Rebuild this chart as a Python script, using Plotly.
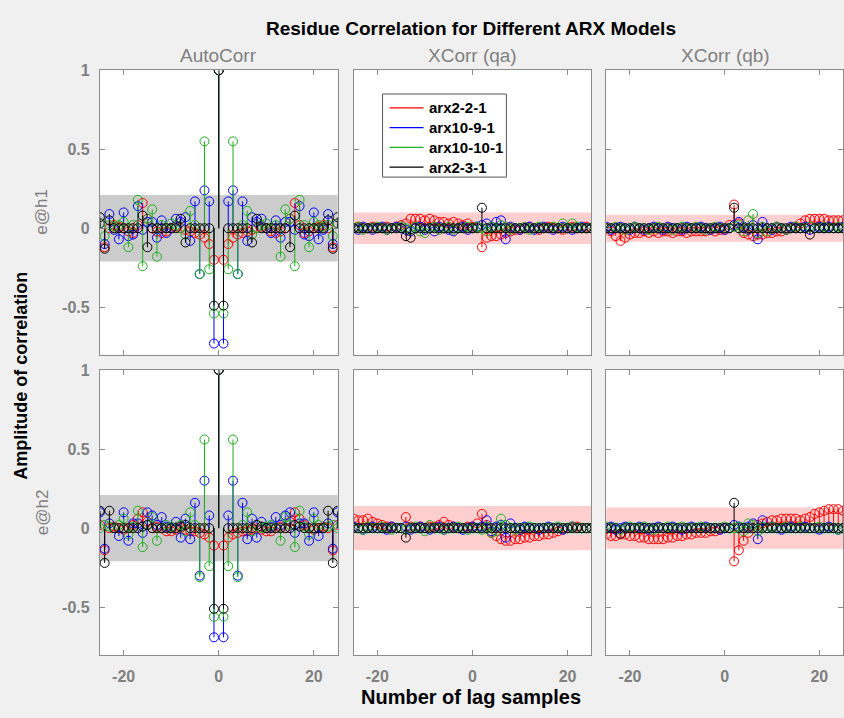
import plotly.graph_objects as go

# ---------------- data ----------------
LAGS = list(range(-25, 26))
MODELS = ["arx2-2-1", "arx10-9-1", "arx10-10-1", "arx2-3-1"]
COLORS = ["#ff0000", "#0000ff", "#1fb01f", "#000000"]
COL_TITLES = ["AutoCorr", "XCorr (qa)", "XCorr (qb)"]
ROW_LABELS = ["e@h1", "e@h2"]
X_TICKS = [-20, 0, 20]
X_TICKTEXT = ["-20", "0", "20"]
Y_TICKS = [-0.5, 0, 0.5, 1]
Y_TICKTEXT = ["-0.5", "0", "0.5", "1"]

# AutoCorr, output h1 (lags -25..25)
auto_h1_arx221 = [0.03,-0.12,0.00,0.02,0.01,0.00,-0.02,-0.03,0.02,0.16,0.06,0.00,-0.02,-0.03,-0.02,0.00,0.01,0.00,-0.01,-0.02,-0.03,-0.04,-0.06,-0.10,-0.20,
                  1.00,
                  -0.20,-0.10,-0.06,-0.04,-0.03,-0.02,-0.01,0.00,0.01,0.00,-0.02,-0.03,-0.02,0.00,0.06,0.16,0.02,-0.03,-0.02,0.00,0.01,0.02,0.00,-0.12,0.03]
auto_h1_arx1091 = [0.03,-0.10,0.09,-0.01,-0.07,0.10,-0.05,-0.04,0.14,-0.01,0.04,0.04,-0.06,0.05,-0.03,0.00,0.06,0.04,0.07,-0.08,0.17,-0.29,0.24,0.17,-0.73,
                   1.00,
                   -0.73,0.17,0.24,-0.29,0.17,-0.08,0.07,0.04,0.06,0.00,-0.03,0.05,-0.06,0.04,0.04,-0.01,0.14,-0.04,-0.05,0.10,-0.07,-0.01,0.09,-0.10,0.03]
auto_h1_arx10101 = [0.03,-0.05,0.02,0.01,0.02,0.04,-0.12,0.02,0.18,-0.24,0.06,0.12,-0.18,0.02,0.00,0.03,0.02,0.00,-0.04,0.11,0.02,-0.29,0.55,-0.26,-0.54,
                    1.00,
                    -0.54,-0.26,0.55,-0.29,0.02,0.11,-0.04,0.00,0.02,0.03,0.00,0.02,-0.18,0.12,0.06,-0.24,0.18,0.02,-0.12,0.04,0.02,0.01,0.02,-0.05,0.03]
auto_h1_arx231 = [0.07,-0.13,0.05,0.00,0.00,0.00,0.00,0.00,0.00,0.08,-0.12,0.00,0.00,0.00,0.00,0.00,0.00,0.06,-0.09,0.00,0.00,0.00,0.00,0.00,-0.49,
                  1.00,
                  -0.49,0.00,0.00,0.00,0.00,0.00,-0.09,0.06,0.00,0.00,0.00,0.00,0.00,0.00,-0.12,0.08,0.00,0.00,0.00,0.00,0.00,0.00,0.05,-0.13,0.07]

# AutoCorr, output h2
auto_h2_arx221 = [0.02,-0.14,0.00,0.01,0.00,-0.01,0.00,0.02,0.06,0.10,0.04,0.00,0.01,0.00,-0.02,-0.02,-0.01,0.00,-0.01,-0.02,-0.02,-0.03,-0.04,-0.06,-0.11,
                  1.00,
                  -0.11,-0.06,-0.04,-0.03,-0.02,-0.02,-0.01,0.00,-0.01,-0.02,-0.02,0.00,0.01,0.00,0.04,0.10,0.06,0.02,0.00,-0.01,0.00,0.01,0.00,-0.14,0.02]
auto_h2_arx1091 = [0.10,-0.13,0.03,0.00,-0.05,0.10,-0.08,0.03,0.03,-0.03,0.10,0.08,0.02,0.07,0.01,0.00,0.04,-0.06,0.06,-0.07,0.16,-0.30,0.30,0.08,-0.69,
                   1.00,
                   -0.69,0.08,0.30,-0.30,0.16,-0.07,0.06,-0.06,0.04,0.00,0.01,0.07,0.02,0.08,0.10,-0.03,0.03,0.03,-0.08,0.10,-0.05,0.00,0.03,-0.13,0.10]
auto_h2_arx10101 = [0.00,0.02,0.01,0.00,0.02,0.06,-0.04,0.01,0.11,-0.12,0.02,0.07,-0.08,0.00,0.02,0.01,0.00,0.02,-0.02,0.10,0.02,-0.31,0.56,-0.24,-0.56,
                    1.00,
                    -0.56,-0.24,0.56,-0.31,0.02,0.10,-0.02,0.02,0.00,0.01,0.02,0.00,-0.08,0.07,0.02,-0.12,0.11,0.01,-0.04,0.06,0.02,0.00,0.01,0.02,0.00]
auto_h2_arx231 = [0.11,-0.22,0.11,0.00,0.00,0.00,0.00,0.00,0.00,0.01,0.02,0.00,0.00,0.00,0.00,0.00,0.00,0.01,0.02,0.00,0.00,0.00,0.00,0.00,-0.51,
                  1.00,
                  -0.51,0.00,0.00,0.00,0.00,0.00,0.00,0.02,0.01,0.00,0.00,0.00,0.00,0.00,0.00,0.02,0.01,0.00,0.00,0.00,0.00,0.00,0.11,-0.22,0.11]

# XCorr (qa), output h1
qa_h1_arx221 = [0.00,0.01,0.00,0.00,0.01,0.00,0.00,0.01,0.00,0.01,
                0.02,0.03,0.06,0.06,0.06,0.05,0.06,0.05,0.04,0.04,
                0.03,0.04,0.03,0.02,0.03,0.01,0.01,-0.12,-0.06,-0.05,
                -0.05,-0.04,-0.03,-0.02,-0.01,-0.01,0.00,0.01,0.00,-0.01,
                0.00,0.01,0.00,0.00,-0.01,0.00,0.01,0.00,0.00,0.01,0.00]
qa_h1_arx1091 = [0.00,-0.01,0.01,0.00,-0.01,0.00,0.01,-0.01,0.00,0.01,
                 0.00,-0.01,-0.02,0.00,0.01,-0.01,0.00,-0.02,0.01,0.00,
                 -0.01,-0.02,0.00,0.01,-0.01,0.00,0.01,0.02,0.03,0.01,
                 0.04,0.05,-0.07,0.01,0.00,-0.01,0.00,0.01,-0.01,0.00,
                 0.01,0.00,-0.01,0.00,0.01,0.00,-0.01,0.00,0.01,0.00,0.00]
qa_h1_arx10101 = [0.00,0.01,-0.01,0.00,0.00,0.01,0.00,-0.01,0.00,0.00,
                  0.01,0.00,-0.01,0.01,-0.02,-0.03,0.00,0.01,-0.01,0.00,
                  0.01,-0.01,0.00,0.00,0.01,0.00,0.01,0.00,-0.02,0.01,
                  0.00,0.02,0.01,-0.01,0.00,0.00,0.01,-0.01,0.00,0.01,
                  0.00,0.00,0.01,0.00,0.03,0.00,0.03,0.01,0.00,0.00,0.00]
qa_h1_arx231 = [0.00,0.00,0.00,0.00,0.00,0.00,0.00,0.00,0.00,0.00,
                0.00,-0.05,-0.06,0.00,0.00,0.00,0.00,0.00,0.00,0.00,
                0.00,0.00,0.00,0.00,0.00,0.00,0.00,0.13,0.00,0.00,
                0.00,0.00,0.00,0.00,0.00,0.00,0.00,0.00,0.00,0.00,
                0.00,0.00,0.00,0.00,0.00,0.00,0.00,0.00,0.00,0.00,0.00]

# XCorr (qb), output h1
qb_h1_arx221 = [0.00,-0.02,-0.05,-0.08,-0.06,-0.04,-0.03,-0.03,-0.02,-0.03,
                -0.02,-0.03,-0.02,-0.02,-0.03,-0.02,-0.02,-0.03,-0.02,-0.02,
                -0.02,-0.02,-0.01,-0.02,-0.01,-0.01,0.02,0.15,0.03,-0.03,
                -0.04,-0.05,-0.04,-0.04,-0.03,-0.03,-0.02,-0.02,-0.01,0.00,
                0.01,0.03,0.05,0.06,0.06,0.06,0.06,0.05,0.05,0.05,0.05]
qb_h1_arx1091 = [0.01,-0.01,0.00,0.01,0.00,-0.01,0.01,0.00,-0.01,0.00,
                 0.01,0.00,-0.01,0.01,0.00,0.00,-0.01,0.01,0.00,0.00,
                 0.01,0.00,-0.01,0.00,0.01,-0.01,0.00,0.02,0.04,0.01,
                 -0.01,0.02,-0.07,0.04,0.00,-0.01,0.01,0.00,-0.01,0.01,
                 0.00,0.00,0.01,-0.01,0.00,0.01,0.00,0.01,0.00,0.00,0.01]
qb_h1_arx10101 = [0.00,0.00,0.01,0.00,-0.01,0.00,0.01,0.00,0.00,-0.01,
                  0.00,0.01,0.00,0.00,-0.01,0.00,0.01,0.00,0.00,0.01,
                  0.00,-0.01,0.00,0.01,0.00,0.00,0.00,0.01,0.02,-0.02,
                  0.05,0.09,-0.03,0.01,-0.02,0.00,0.01,0.00,-0.01,0.00,
                  0.01,0.00,0.00,0.01,0.00,0.00,0.01,0.00,0.00,0.01,0.00]
qb_h1_arx231 = [0.00,0.00,0.00,0.00,0.00,0.00,0.00,0.00,0.00,0.00,
                0.00,0.00,0.00,0.00,0.00,0.00,0.00,0.00,0.00,0.00,
                0.00,0.00,0.00,0.00,0.00,0.00,0.00,0.13,0.00,0.00,
                0.00,0.00,0.00,0.00,0.00,0.00,0.00,0.00,0.00,0.00,
                0.00,0.00,0.00,-0.04,0.00,0.00,0.00,0.00,0.00,0.00,0.00]

# XCorr (qa), output h2
qa_h2_arx221 = [0.06,0.05,0.05,0.06,0.04,0.03,0.02,0.01,0.01,0.00,
                0.00,0.07,0.01,0.00,0.01,0.00,0.01,0.01,0.02,0.04,
                0.02,0.01,0.00,0.00,0.01,0.01,0.03,0.09,0.02,-0.03,
                -0.05,-0.07,-0.08,-0.08,-0.07,-0.07,-0.06,-0.06,-0.05,-0.05,
                -0.04,-0.04,-0.03,-0.02,-0.01,0.00,0.01,0.01,0.00,0.00,0.00]
qa_h2_arx1091 = [0.01,0.00,-0.01,0.00,0.01,0.00,0.00,-0.01,0.01,0.00,
                 0.00,0.01,-0.01,0.00,0.01,0.00,-0.01,0.00,0.01,-0.01,
                 0.00,0.01,0.00,-0.01,0.00,0.01,0.00,0.01,0.05,-0.02,
                 0.01,0.02,-0.06,0.03,0.00,-0.01,0.01,0.00,0.00,-0.01,
                 0.00,0.01,0.00,0.00,-0.01,0.00,0.01,0.00,0.00,0.00,0.00]
qa_h2_arx10101 = [0.00,0.00,-0.01,0.01,0.00,0.00,0.01,0.00,-0.01,0.00,
                  0.00,-0.01,0.00,0.01,0.00,-0.02,0.02,0.00,0.00,-0.01,
                  0.00,0.00,0.01,0.00,-0.01,0.00,0.00,-0.01,0.01,-0.03,
                  -0.02,0.06,0.02,0.00,-0.01,0.00,0.00,0.01,0.00,0.00,
                  0.00,0.00,0.00,0.01,0.00,0.00,0.01,0.00,0.00,0.00,0.00]
qa_h2_arx231 = [0.00,0.00,0.00,0.00,0.00,0.00,0.00,0.00,0.00,0.00,
                0.00,-0.06,0.00,0.00,0.00,0.00,0.00,0.00,0.00,0.00,
                0.00,0.00,0.00,0.00,0.00,0.00,0.00,0.00,0.00,0.00,
                0.00,0.00,0.00,0.00,0.00,0.00,0.00,0.00,0.00,0.00,
                0.00,0.00,0.00,0.00,0.00,0.00,0.00,0.00,0.00,0.00,0.00]

# XCorr (qb), output h2
qb_h2_arx221 = [-0.04,-0.05,-0.05,-0.04,-0.04,-0.05,-0.05,-0.06,-0.06,-0.07,
                -0.07,-0.07,-0.07,-0.06,-0.06,-0.05,-0.05,-0.04,-0.04,-0.03,
                -0.03,-0.03,-0.02,-0.02,-0.01,0.00,0.00,-0.21,-0.14,-0.08,
                -0.03,0.00,0.02,0.03,0.04,0.05,0.05,0.06,0.06,0.06,
                0.06,0.05,0.06,0.07,0.09,0.10,0.11,0.12,0.12,0.12,0.11]
qb_h2_arx1091 = [0.00,0.01,-0.01,0.00,0.01,0.00,0.00,0.01,0.00,-0.01,
                 0.00,0.01,0.00,0.00,0.01,0.00,-0.01,0.00,0.01,0.00,
                 0.00,0.01,0.00,0.00,-0.01,0.00,0.00,0.02,0.01,0.00,
                 0.01,0.03,-0.07,0.05,0.00,0.01,0.00,-0.01,0.00,0.01,
                 0.00,0.00,0.01,0.00,0.00,-0.01,0.00,0.01,0.00,-0.01,0.00]
qb_h2_arx10101 = [0.01,0.00,0.00,-0.01,0.00,0.01,0.00,0.00,0.01,0.00,
                  -0.01,0.00,0.00,0.01,0.00,0.00,0.01,0.00,0.00,0.00,
                  0.01,0.00,0.00,0.00,0.00,0.01,0.00,0.00,0.01,-0.02,
                  0.03,0.02,-0.02,0.01,0.00,0.01,0.00,0.00,0.01,0.00,
                  0.00,0.01,0.00,0.00,0.00,0.01,0.00,0.00,0.00,-0.01,0.00]
qb_h2_arx231 = [0.00,0.00,0.00,-0.035,0.00,0.00,0.00,0.00,0.00,0.00,
                0.00,0.00,0.00,0.00,0.00,0.00,0.00,0.00,0.00,0.00,
                0.00,0.00,0.00,0.00,0.00,0.00,0.00,0.16,0.00,0.00,
                0.00,0.00,0.00,0.00,0.00,0.00,0.00,0.00,0.00,0.00,
                0.00,0.00,0.00,0.00,0.00,0.00,0.00,0.00,0.00,0.00,0.00]

# confidence half-widths per panel: (outer red band, inner band)
CONF_AUTO = [0.21, 0.21]
CONF_QA_RED = [0.10, 0.14]
CONF_QA_INNER = [0.03, 0.04]
CONF_QB_RED = [0.085, 0.13]
CONF_QB_INNER = [0.025, 0.04]

PANELS = [
    [auto_h1_arx221, auto_h1_arx1091, auto_h1_arx10101, auto_h1_arx231],
    [qa_h1_arx221, qa_h1_arx1091, qa_h1_arx10101, qa_h1_arx231],
    [qb_h1_arx221, qb_h1_arx1091, qb_h1_arx10101, qb_h1_arx231],
    [auto_h2_arx221, auto_h2_arx1091, auto_h2_arx10101, auto_h2_arx231],
    [qa_h2_arx221, qa_h2_arx1091, qa_h2_arx10101, qa_h2_arx231],
    [qb_h2_arx221, qb_h2_arx1091, qb_h2_arx10101, qb_h2_arx231],
]
for p in PANELS:
    for s in p:
        assert len(s) == len(LAGS), len(s)

# ---------------- layout ----------------
W, H = 844, 718
FONT = "Liberation Sans, Arial, Helvetica, sans-serif"
GRAY = "#808080"
AXCOL = "#8c8c8c"

X_DOM = [(100 / W, 338 / W), (354 / W, 592 / W), (607 / W, 1.0)]
Y_DOM = [(1 - 350.5 / H, 1 - 63 / H), (1 - 654 / H, 1 - 366 / H)]

fig = go.Figure()
shapes = []

for idx, panel in enumerate(PANELS):
    r, c = divmod(idx, 3)
    n = idx + 1
    xa = "x" if n == 1 else f"x{n}"
    ya = "y" if n == 1 else f"y{n}"

    # confidence bands
    if c == 0:
        bands = [(CONF_AUTO[r], "rgb(204,204,204)")]
    elif c == 1:
        bands = [(CONF_QA_RED[r], "rgb(255,206,206)"), (CONF_QA_INNER[r], "rgb(205,218,208)")]
    else:
        bands = [(CONF_QB_RED[r], "rgb(255,206,206)"), (CONF_QB_INNER[r], "rgb(205,218,208)")]
    for hw, col in bands:
        shapes.append(dict(type="rect", xref=f"{xa} domain", yref=ya, x0=0, x1=1,
                           y0=-hw, y1=hw, fillcolor=col, line=dict(width=0), layer="below"))

    for m, (series, color) in enumerate(zip(panel, COLORS)):
        sx, sy = [], []
        for lag, v in zip(LAGS, series):
            sx += [lag, lag, None]
            sy += [0, v, None]
        fig.add_trace(go.Scatter(x=sx, y=sy, mode="lines", xaxis=xa, yaxis=ya,
                                 line=dict(color=color, width=1),
                                 name=MODELS[m], legendgroup=MODELS[m],
                                 showlegend=False, hoverinfo="skip"))
        fig.add_trace(go.Scatter(x=LAGS, y=series, mode="markers", xaxis=xa, yaxis=ya,
                                 marker=dict(symbol="circle-open", size=9, color=color,
                                             line=dict(color=color, width=1)),
                                 legendgroup=MODELS[m], showlegend=False, name=MODELS[m]))

    xkey = "xaxis" if n == 1 else f"xaxis{n}"
    ykey = "yaxis" if n == 1 else f"yaxis{n}"
    fig.layout[xkey] = dict(
        domain=X_DOM[c], anchor=ya, range=[-25, 25],
        tickvals=X_TICKS, ticktext=X_TICKTEXT, showticklabels=(r == 1),
        ticks="inside", ticklen=5, tickcolor=AXCOL, mirror="ticks",
        showline=True, linecolor=AXCOL, linewidth=1,
        showgrid=False, zeroline=False, ticklabelstandoff=7,
        tickfont=dict(family=FONT, size=16, color=GRAY, weight="bold"),
    )
    fig.layout[ykey] = dict(
        domain=Y_DOM[r], anchor=xa, range=[-0.8, 1.0],
        tickvals=Y_TICKS, ticktext=Y_TICKTEXT, showticklabels=(c == 0),
        ticks="inside", ticklen=5, tickcolor=AXCOL, mirror="ticks",
        showline=True, linecolor=AXCOL, linewidth=1,
        showgrid=False, zeroline=False, ticklabelstandoff=6,
        tickfont=dict(family=FONT, size=16, color=GRAY, weight="bold"),
    )

annotations = []
annotations.append(dict(text="<b>Residue Correlation for Different ARX Models</b>",
                        x=472 / W, y=1 - 21 / H, xref="paper", yref="paper",
                        showarrow=False, xanchor="center", yanchor="middle",
                        font=dict(family=FONT, size=19, color="black")))
for c, (t, cx) in enumerate(zip(COL_TITLES, [219, 473, 726])):
    annotations.append(dict(text=t, x=cx / W, y=1 - 48 / H, xref="paper", yref="paper",
                            showarrow=False, xanchor="center", yanchor="middle",
                            font=dict(family=FONT, size=19, color=GRAY)))
for r, (t, cy) in enumerate(zip(ROW_LABELS, [206, 510])):
    annotations.append(dict(text=t, x=42 / W, y=1 - cy / H, xref="paper", yref="paper",
                            showarrow=False, xanchor="center", yanchor="middle", textangle=-90,
                            font=dict(family=FONT, size=17, color=GRAY)))
annotations.append(dict(text="<b>Amplitude of correlation</b>", x=21 / W, y=1 - 372 / H,
                        xref="paper", yref="paper", showarrow=False, textangle=-90,
                        xanchor="center", yanchor="middle",
                        font=dict(family=FONT, size=18, color="black")))
annotations.append(dict(text="<b>Number of lag samples</b>", x=472 / W, y=1 - 697 / H,
                        xref="paper", yref="paper", showarrow=False,
                        xanchor="center", yanchor="middle",
                        font=dict(family=FONT, size=20, color="black")))

# legend box (paper pixels), entries labelled with the model names
LEG_X0, LEG_X1, LEG_Y0, LEG_Y1 = 383, 507, 87, 171
shapes.append(dict(type="rect", xref="paper", yref="paper",
                   x0=LEG_X0 / W, x1=LEG_X1 / W, y0=1 - LEG_Y1 / H, y1=1 - LEG_Y0 / H,
                   fillcolor="white", line=dict(color="#555555", width=1), layer="above"))
for m, (name, color) in enumerate(zip(MODELS, COLORS)):
    yy = 1 - (101 + 20 * m) / H
    shapes.append(dict(type="line", xref="paper", yref="paper",
                       x0=390 / W, x1=424 / W, y0=yy, y1=yy,
                       line=dict(color=color, width=1.2), layer="above"))
    annotations.append(dict(text=f"<b>{name}</b>", x=428 / W, y=yy, xref="paper", yref="paper",
                            showarrow=False, xanchor="left", yanchor="middle",
                            font=dict(family=FONT, size=15, color="black")))

fig.update_layout(
    width=W, height=H, margin=dict(l=0, r=0, t=0, b=0),
    paper_bgcolor="#f0f0f0", plot_bgcolor="white",
    shapes=shapes, annotations=annotations,
    showlegend=False,
)

fig.write_html("out.html")
